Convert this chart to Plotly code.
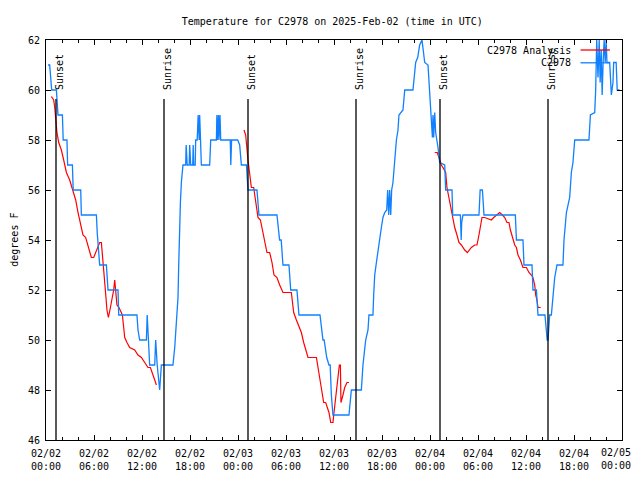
import pandas as pd
import plotly.graph_objects as go

START = pd.Timestamp("2025-02-02 00:00")

# Observed temperature (hours since 02/02 00:00 UTC, deg F)
obs_hours = [0.25, 0.46, 0.71, 1.3, 1.5, 2.05, 2.15, 2.62, 2.7, 3.3, 3.4, 4.34, 4.42, 6.3, 6.4, 6.5, 6.71, 7.55, 7.75, 9.0,
             9.09, 11.37, 11.5, 11.71, 12.55, 12.65, 12.77, 12.84, 12.96, 13.59, 13.71, 13.9, 14.21, 14.42, 14.62, 15.87,
             16.09, 16.21, 16.37, 16.5, 16.59, 16.65, 16.8, 16.92, 17.05, 17.12, 17.46, 17.52, 17.65, 17.9, 17.96, 18.09,
             18.34, 18.4, 18.46, 18.65, 18.71, 18.9, 19.02, 19.15, 19.21, 19.34, 19.42, 20.46, 20.59, 20.8, 21.3, 21.36,
             21.42, 21.56, 21.62, 21.75, 21.84, 23.03, 23.1, 23.2, 23.96, 24.21, 24.42, 25.05, 25.15, 25.25, 26.37, 26.62,
             28.87, 29.2, 29.4, 29.62, 30.37, 30.59, 31.37, 31.62, 34.25, 34.62, 34.77, 35.09, 35.37, 35.52, 35.67, 35.87,
             37.87, 38.17, 39.42, 39.62, 39.96, 40.25, 40.37, 40.87, 40.96, 41.09, 41.3, 41.5, 41.71, 41.92, 42.12, 42.34,
             42.59, 42.71, 42.84, 42.96, 43.09, 43.21, 43.37, 43.59, 43.8, 44.0, 44.12, 44.62, 44.84, 45.87, 46.02, 46.21,
             46.46, 46.71, 47.0, 47.15, 47.34, 47.75, 47.96, 48.17, 48.3, 48.37, 48.46, 48.59, 48.71, 49.0, 49.21, 49.84,
             49.96, 50.75, 50.84, 51.8, 51.9, 51.96, 52.12, 54.12, 54.27, 54.55, 54.75, 58.67, 58.8, 59.62, 59.75, 60.75,
             60.87, 61.3, 61.5, 62.37, 62.65, 62.75, 62.96, 63.17, 63.37, 63.59, 63.87, 64.62, 64.75, 65.05, 65.46, 65.67,
             65.87, 66.09, 67.87, 68.05, 68.59, 68.71, 68.84, 69.0, 69.15, 69.27, 69.4, 69.52, 69.65, 69.77, 69.9, 70.02,
             70.12, 70.46, 70.67, 70.87, 70.96, 71.27, 71.4, 71.7]
obs_temp = [61, 61, 60, 60, 59, 59, 58, 58, 57, 57, 56, 56, 55, 55, 54.3, 53.9, 53, 53, 52, 52,
            51, 51, 50.4, 50, 50, 51, 50, 49.7, 49, 49, 50, 49, 48, 49, 49, 49,
            49.7, 50.3, 51, 51.7, 53, 54, 55.5, 56.3, 56.8, 57, 57, 57.8, 57, 57, 57.8, 57,
            57, 57.8, 57, 57, 58, 58, 59, 58, 59, 58, 57, 57, 58, 58, 58, 59,
            58, 59, 58, 59, 58, 58, 57, 58, 58, 57.8, 57, 57, 56.3, 56, 56, 55,
            55, 54, 54, 53, 53, 52, 52, 51, 51, 50, 50, 49.3, 49, 49, 47.8, 47,
            47, 48, 48, 49, 50, 50.4, 51, 51, 51.8, 52.6, 53.1, 53.6, 54.1, 54.5, 54.9, 55.1,
            55.2, 56, 55, 56, 55, 56, 56.3, 57.3, 58, 58.4, 59, 59.2, 60, 60, 60.6, 61.1,
            61.3, 61.8, 62, 61.6, 61.1, 61, 59.7, 58.5, 58.1, 59, 58.1, 59.1, 58.3, 57.7, 57.1, 57,
            56, 56, 55, 55, 54, 54.7, 55, 55, 56, 56, 55, 55, 54, 54, 53, 53,
            52, 52, 51, 51, 50, 50, 51, 51, 51.9, 52.5, 53, 53, 54, 55.1, 55.7, 56.7,
            57.1, 58, 58, 59, 59.1, 60, 62, 60.5, 62, 60.3, 61.6, 59.8, 61.2, 62, 61.1, 62,
            61.1, 61.1, 59.8, 60.3, 61.1, 61.1, 60, 60]

# Analysis temperature (None = no analysis)
ana_hours = [0.67, 0.96, 1.09, 1.21, 1.37, 1.59, 1.92, 2.21, 2.55, 2.96, 3.37, 3.71, 4.0, 4.3, 4.62, 4.96, 5.25, 5.46,
             5.67, 5.96, 6.21, 6.5, 6.71, 6.92, 7.05, 7.21, 7.42, 7.62, 7.8, 8.05, 8.3, 8.46, 8.59, 8.71, 8.87, 9.12,
             9.37, 9.55, 9.71, 9.84, 10.12, 10.46, 11.09, 11.5, 11.92, 12.34, 12.75, 13.05, 13.3, 13.59, 13.8,
             19.0,
             24.75, 24.96, 25.25, 25.46, 25.67, 25.96, 26.21, 26.5, 26.8, 27.05, 27.34, 27.62, 27.96, 28.25, 28.5,
             28.87, 29.21, 29.62, 30.67, 30.8, 30.96, 31.3, 31.62, 31.92, 32.21, 32.46, 32.75, 33.8, 34.0, 34.21,
             34.42, 34.71, 34.96, 35.12, 35.37, 35.59, 35.87, 36.0, 36.17, 36.37, 36.55, 36.67, 36.8, 36.87, 37.12,
             37.34, 37.62, 37.87,
             43.0,
             48.59, 48.9, 49.12, 49.42, 49.62, 49.96, 50.12, 50.37, 50.55, 50.8, 51.09, 51.37, 51.62, 51.92, 52.34,
             52.67, 53.17, 53.59, 53.87, 54.12, 54.3, 54.5, 54.84, 55.25, 55.67, 55.96, 56.3, 56.71, 57.05, 57.34,
             57.62, 57.87, 58.05, 58.3, 58.59, 58.8, 59.0, 59.3, 59.62, 60.05, 60.37, 60.67, 60.87, 61.09, 61.21,
             61.37, 61.5, 61.84]
ana_temp = [59.74, 59.6, 59.3, 58.8, 58.3, 57.9, 57.6, 57.2, 56.7, 56.4, 56.0, 55.6, 55.1, 54.6, 54.2, 54.1, 53.8, 53.5,
            53.3, 53.3, 53.5, 53.7, 53.9, 53.9, 53.3, 52.8, 52.0, 51.2, 50.9, 51.3, 51.7, 52.0, 52.4, 51.9, 51.4, 51.3,
            51.1, 51.0, 50.5, 50.1, 49.9, 49.7, 49.6, 49.4, 49.3, 49.1, 48.9, 48.9, 48.7, 48.4, 48.2,
            None,
            58.4, 58.2, 57.2, 56.7, 56.1, 56.1, 55.6, 54.9, 54.8, 54.4, 54.0, 53.5, 53.5, 53.1, 52.6,
            52.5, 52.2, 51.9, 51.9, 51.5, 51.1, 50.8, 50.5, 50.3, 49.9, 49.6, 49.3, 49.3, 48.9, 48.4,
            47.9, 47.5, 47.5, 47.3, 47.1, 46.7, 46.7, 47.1, 47.6, 48.3, 48.7, 49.0, 49.0, 47.5, 47.8,
            48.1, 48.3, 48.3,
            None,
            57.5, 57.5, 57.3, 57.0, 56.9, 56.7, 56.1, 55.7, 55.4, 54.9, 54.5, 54.2, 53.9, 53.8, 53.6,
            53.5, 53.7, 53.8, 53.8, 54.2, 54.5, 54.9, 54.9, 54.85, 54.8, 54.9, 55.0, 55.1, 55.0, 54.9,
            54.7, 54.7, 54.4, 54.1, 53.8, 53.7, 53.4, 53.2, 52.9, 52.9, 52.7, 52.6, 52.5, 52.2, 51.8,
            51.6, 51.3, 51.3]

# Sun events (hours since 02/02 00:00 UTC)
sun_hours = [1.25, 14.75, 25.25, 38.75, 49.25, 62.75]
sun_labels = ["Sunset", "Sunrise", "Sunset", "Sunrise", "Sunset", "Sunrise"]

tick_hours = list(range(0, 73, 6))
tick_labels = ["02/02<br>00:00", "02/02<br>06:00", "02/02<br>12:00", "02/02<br>18:00",
               "02/03<br>00:00", "02/03<br>06:00", "02/03<br>12:00", "02/03<br>18:00",
               "02/04<br>00:00", "02/04<br>06:00", "02/04<br>12:00", "02/04<br>18:00",
               "02/05<br>00:00"]
y_ticks = [46, 48, 50, 52, 54, 56, 58, 60, 62]

def to_time(hours):
    return [START + pd.Timedelta(hours=h) for h in hours]

FONT = "DejaVu Sans Mono"
RED = "#ff0000"
BLUE = "#1080ff"

# page has an 8px body margin: keep the figure inside the 640x480 window
W, H = 624, 464

fig = go.Figure()
fig.add_trace(go.Scatter(x=to_time(ana_hours), y=ana_temp, mode="lines",
                         line=dict(color=RED, width=1.2), connectgaps=False,
                         name="C2978 Analysis", showlegend=False))
fig.add_trace(go.Scatter(x=to_time(obs_hours), y=obs_temp, mode="lines",
                         line=dict(color=BLUE, width=1.3),
                         name="C2978", showlegend=False))

shapes = []
annotations = []
for h, lab in zip(sun_hours, sun_labels):
    t = START + pd.Timedelta(hours=h)
    shapes.append(dict(type="line", xref="x", yref="paper", x0=t, x1=t, y0=0, y1=0.8525,
                       line=dict(color="black", width=1.3)))
    annotations.append(dict(x=t, y=0.87, xref="x", yref="paper", text=lab, textangle=-90,
                            showarrow=False, xanchor="center", yanchor="bottom", xshift=3,
                            font=dict(family=FONT, size=10, color="black")))

# legend (gnuplot style: text then line sample)
leg = [("C2978 Analysis", RED, 0.975), ("C2978", BLUE, 0.943)]
for text, col, yp in leg:
    annotations.append(dict(x=0.9155, y=yp, xref="paper", yref="paper", text=text, showarrow=False,
                            xanchor="right", yanchor="middle",
                            font=dict(family=FONT, size=10, color="black")))
    shapes.append(dict(type="line", xref="paper", yref="paper", x0=0.928, x1=0.979, y0=yp, y1=yp,
                       line=dict(color=col, width=1.3)))

annotations.append(dict(x=-0.056, y=0.5, xref="paper", yref="paper", text="degrees F", textangle=-90,
                        showarrow=False, xanchor="center", yanchor="middle",
                        font=dict(family=FONT, size=10, color="black")))

# last time label drawn as annotation so it stays inside the window
tick_text_axis = tick_labels[:-1] + [""]
annotations.append(dict(x=START + pd.Timedelta(hours=tick_hours[-1]), y=0, xref="x", yref="paper",
                        text=tick_labels[-1], showarrow=False, xanchor="right", yanchor="top",
                        xshift=10, yshift=-6, align="center", borderpad=0,
                        font=dict(family=FONT, size=10, color="black")))

fig.update_layout(
    width=W, height=H,
    margin=dict(l=38, r=10, t=32, b=32, autoexpand=False),
    paper_bgcolor="white", plot_bgcolor="white",
    font=dict(family=FONT, size=10, color="black"),
    title=dict(text="Temperature for C2978 on 2025-Feb-02 (time in UTC)", x=0.497, xanchor="center",
               xref="paper", yref="container",
               y=1 - 13.3 / H, yanchor="middle", font=dict(family=FONT, size=10, color="black")),
    shapes=shapes, annotations=annotations,
    showlegend=False,
)
fig.update_xaxes(type="date", range=[START, START + pd.Timedelta(hours=72)], automargin=False,
                 tickmode="array", tickvals=to_time(tick_hours), ticktext=tick_text_axis,
                 ticks="inside", ticklen=5, tickcolor="black", tickwidth=1,
                 minor=dict(ticks="inside", ticklen=3, tickcolor="black",
                            tickvals=to_time(list(range(0, 73, 2)))),
                 showline=True, linecolor="black", linewidth=1, mirror="ticks",
                 showgrid=False, zeroline=False, ticklabelstandoff=4,
                 tickfont=dict(family=FONT, size=10, color="black"))
fig.update_yaxes(range=[46, 62], tickmode="array", tickvals=y_ticks, automargin=False,
                 ticks="inside", ticklen=5, tickcolor="black", tickwidth=1,
                 showline=True, linecolor="black", linewidth=1, mirror="ticks",
                 showgrid=False, zeroline=False, ticklabelstandoff=3,
                 tickfont=dict(family=FONT, size=10, color="black"))

fig.write_html("out.html")
